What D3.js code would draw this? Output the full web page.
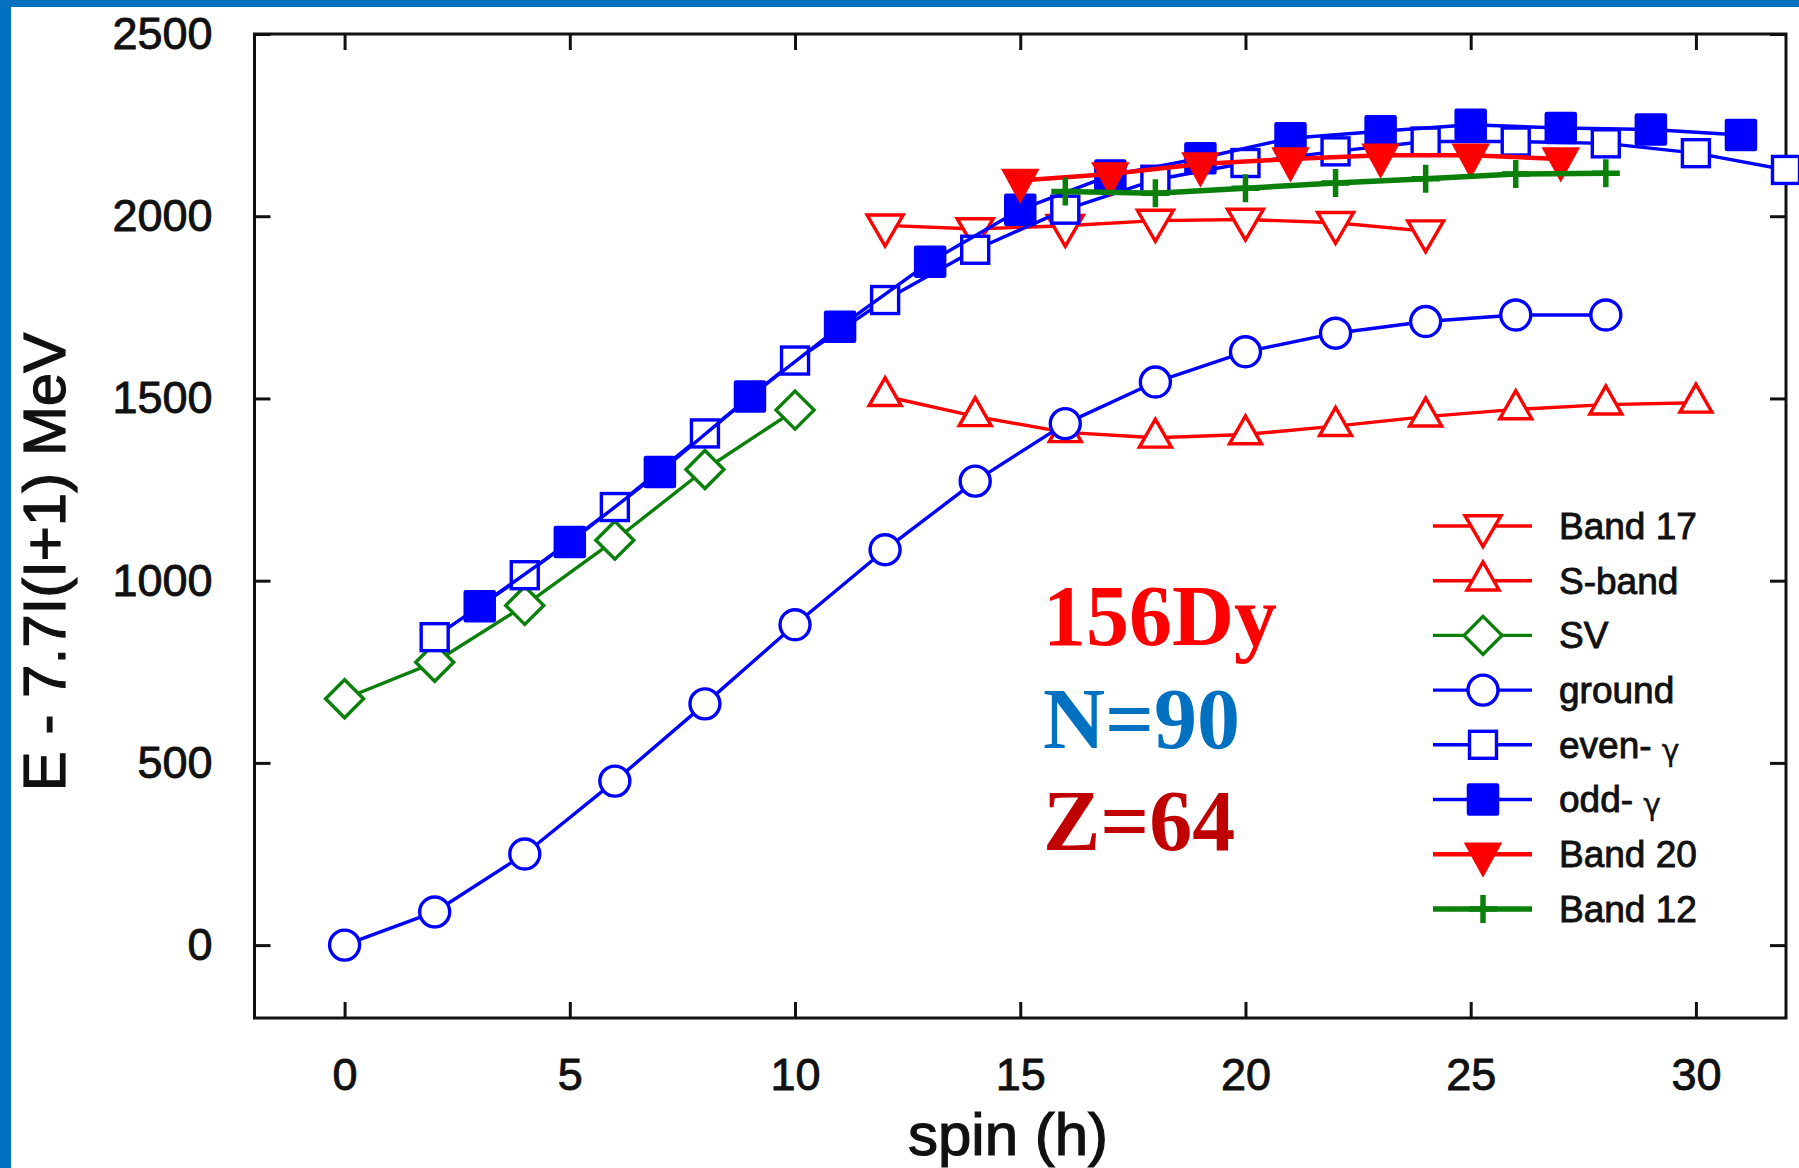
<!DOCTYPE html>
<html>
<head>
<meta charset="utf-8">
<script src="https://cdn.jsdelivr.net/npm/d3@7"></script>
<style>
  html, body { margin: 0; padding: 0; background: #fff; }
  svg { display: block; }
</style>
</head>
<body>
<svg id="chart" width="1799" height="1168"></svg>
<script>
// 156Dy bands: spin (hbar) and E - 7.7 I(I+1) (keV)
const band17Spin = [12, 14, 16, 18, 20, 22, 24];
const band17E    = [1975, 1965, 1974, 1988, 1991, 1982, 1959];

const sBandSpin = [12, 14, 16, 18, 20, 22, 24, 26, 28, 30];
const sBandE    = [1506, 1451, 1407, 1392, 1401, 1424, 1450, 1470, 1483, 1488];

const svSpin = [0, 2, 4, 6, 8, 10];
const svE    = [676, 776, 932, 1111, 1305, 1468];

const groundSpin = [0, 2, 4, 6, 8, 10, 12, 14, 16, 18, 20, 22, 24, 26, 28];
const groundE    = [0, 91, 250, 450, 662, 879, 1085, 1273, 1431, 1545, 1628, 1679, 1711, 1729, 1729];

const evenGammaSpin = [2, 4, 6, 8, 10, 12, 14, 16, 18, 20, 22, 24, 26, 28, 30, 32];
const evenGammaE    = [845, 1015, 1202, 1404, 1604, 1770, 1908, 2018, 2100, 2146, 2178, 2205, 2205, 2200, 2173, 2127];

const oddGammaSpin = [3, 5, 7, 9, 11, 13, 15, 17, 19, 21, 23, 25, 27, 29, 31];
const oddGammaE    = [930, 1106, 1298, 1505, 1697, 1875, 2018, 2112, 2159, 2214, 2233, 2251, 2242, 2238, 2223];

const band20Spin = [15, 17, 19, 21, 23, 25, 27];
const band20E    = [2098, 2116, 2143, 2157, 2167, 2167, 2157];

const band12Spin = [16, 18, 20, 22, 24, 26, 28];
const band12E    = [2068, 2063, 2077, 2091, 2103, 2116, 2118];

const xTicks = [0, 5, 10, 15, 20, 25, 30];
const yTicks = [0, 500, 1000, 1500, 2000, 2500];

const legendNames = ["Band 17", "S-band", "SV", "ground", "even- γ", "odd- γ", "Band 20", "Band 12"];
const nucleusLabels = ["156Dy", "N=90", "Z=64"];

// ---- series styling (plotted in this order) ----
const RED = "#ff0000", BLUE = "#0000ff", GREEN = "#0a800a";
const series = [
  { name: legendNames[0], spin: band17Spin,    e: band17E,    color: RED,   marker: "triDownOpen", lw: 3.4 },
  { name: legendNames[1], spin: sBandSpin,     e: sBandE,     color: RED,   marker: "triUpOpen",   lw: 3.4 },
  { name: legendNames[2], spin: svSpin,        e: svE,        color: GREEN, marker: "diamond",     lw: 3.4 },
  { name: legendNames[3], spin: groundSpin,    e: groundE,    color: BLUE,  marker: "circle",      lw: 3.4 },
  { name: legendNames[4], spin: evenGammaSpin, e: evenGammaE, color: BLUE,  marker: "squareOpen",  lw: 3.4 },
  { name: legendNames[5], spin: oddGammaSpin,  e: oddGammaE,  color: BLUE,  marker: "squareFill",  lw: 3.4 },
  { name: legendNames[6], spin: band20Spin,    e: band20E,    color: RED,   marker: "triDownFill", lw: 4.5 },
  { name: legendNames[7], spin: band12Spin,    e: band12E,    color: GREEN, marker: "plus",        lw: 5.5 }
];

const svg = d3.select("#chart");

// page frame strips
svg.append("rect").attr("x", 0).attr("y", 0).attr("width", 1799).attr("height", 1168).attr("fill", "#fff");
svg.append("rect").attr("x", 0).attr("y", 0).attr("width", 1799).attr("height", 7).attr("fill", "#0070c0");
svg.append("rect").attr("x", 0).attr("y", 0).attr("width", 11).attr("height", 1168).attr("fill", "#0070c0");

const plot = { left: 254.5, right: 1786, top: 34, bottom: 1018 };
const x = d3.scaleLinear().domain([-2, 32]).range([plot.left, plot.right]);
const y = d3.scaleLinear().domain([-200, 2500]).range([plot.bottom, plot.top]);

const AXIS_FONT = "'Liberation Sans', Arial, sans-serif";
const INK = "#111";
const TICK = 16;

// axes with inward ticks on all four sides
function styleAxis(g) {
  g.select(".domain").remove();
  g.selectAll(".tick line").attr("stroke", INK).attr("stroke-width", 3);
  g.selectAll("text").attr("font-family", AXIS_FONT).attr("font-size", 45)
    .attr("fill", INK).attr("stroke", INK).attr("stroke-width", 0.9);
}
svg.append("g").attr("transform", `translate(${plot.left},0)`)
  .call(d3.axisLeft(y).tickValues(yTicks).tickSize(-TICK).tickPadding(42).tickFormat(d3.format("d")))
  .call(styleAxis);
svg.append("g").attr("transform", `translate(${plot.right},0)`)
  .call(d3.axisRight(y).tickValues(yTicks).tickSize(-TICK).tickFormat(""))
  .call(styleAxis);
svg.append("g").attr("transform", `translate(0,${plot.bottom})`)
  .call(d3.axisBottom(x).tickValues(xTicks).tickSize(-TICK).tickPadding(40).tickFormat(d3.format("d")))
  .call(styleAxis);
svg.append("g").attr("transform", `translate(0,${plot.top})`)
  .call(d3.axisTop(x).tickValues(xTicks).tickSize(-TICK).tickFormat(""))
  .call(styleAxis);

svg.append("rect")
  .attr("x", plot.left).attr("y", plot.top)
  .attr("width", plot.right - plot.left).attr("height", plot.bottom - plot.top)
  .attr("fill", "none").attr("stroke", INK).attr("stroke-width", 3);

// axis titles
svg.append("text")
  .attr("transform", "translate(65,562) rotate(-90)")
  .attr("text-anchor", "middle")
  .attr("font-family", AXIS_FONT).attr("font-size", 60)
  .attr("fill", INK).attr("stroke", INK).attr("stroke-width", 1.2)
  .text("E - 7.7I(I+1) MeV");
svg.append("text")
  .attr("x", 1008).attr("y", 1155)
  .attr("text-anchor", "middle")
  .attr("font-family", AXIS_FONT).attr("font-size", 60)
  .attr("fill", INK).attr("stroke", INK).attr("stroke-width", 1.2)
  .text("spin (h)");

// marker drawing
function drawMarker(g, type, color) {
  switch (type) {
    case "triDownOpen":
      g.append("path").attr("d", "M-18,-10.3L18,-10.3L0,20.7Z")
        .attr("fill", "#fff").attr("stroke", color).attr("stroke-width", 3.4);
      break;
    case "triUpOpen":
      g.append("path").attr("d", "M-16,9.3L16,9.3L0,-18.7Z")
        .attr("fill", "#fff").attr("stroke", color).attr("stroke-width", 3.4);
      break;
    case "triDownFill":
      g.append("path").attr("d", "M-18,-11L18,-11L0,22Z")
        .attr("fill", color).attr("stroke", color).attr("stroke-width", 1.5);
      break;
    case "diamond":
      g.append("path").attr("d", "M0,-19L19,0L0,19L-19,0Z")
        .attr("fill", "#fff").attr("stroke", color).attr("stroke-width", 3.4);
      break;
    case "circle":
      g.append("circle").attr("r", 15)
        .attr("fill", "#fff").attr("stroke", color).attr("stroke-width", 3.4);
      break;
    case "squareOpen":
      g.append("rect").attr("x", -13.5).attr("y", -13.5).attr("width", 27).attr("height", 27)
        .attr("fill", "#fff").attr("stroke", color).attr("stroke-width", 3.4);
      break;
    case "squareFill":
      g.append("rect").attr("x", -15.5).attr("y", -15.5).attr("width", 31).attr("height", 31)
        .attr("fill", color).attr("stroke", color).attr("stroke-width", 1.5).attr("rx", 1.5);
      break;
    case "plus":
      g.append("path").attr("d", "M-14,0H14M0,-14V14")
        .attr("fill", "none").attr("stroke", color).attr("stroke-width", 5.5);
      break;
  }
}

const line = d3.line().x(d => x(d[0])).y(d => y(d[1]));

// each band: connecting line first, then its markers
series.forEach(s => {
  const pts = s.spin.map((sp, i) => [sp, s.e[i]]);
  const g = svg.append("g");
  g.append("path").datum(pts).attr("d", line)
    .attr("fill", "none").attr("stroke", s.color).attr("stroke-width", s.lw)
    .attr("stroke-linejoin", "round");
  g.selectAll("g.pt").data(pts).enter().append("g").attr("class", "pt")
    .attr("transform", d => `translate(${x(d[0])},${y(d[1])})`)
    .each(function () { drawMarker(d3.select(this), s.marker, s.color); });
});

// legend
const legend = { x1: 1433, x2: 1532, xm: 1483, xt: 1559, y0: 526, dy: 54.7 };
series.forEach((s, i) => {
  const ly = legend.y0 + i * legend.dy;
  const g = svg.append("g");
  g.append("line").attr("x1", legend.x1).attr("x2", legend.x2).attr("y1", ly).attr("y2", ly)
    .attr("stroke", s.color).attr("stroke-width", s.lw);
  const mg = g.append("g").attr("transform", `translate(${legend.xm},${ly})`);
  drawMarker(mg, s.marker, s.color);
  const t = g.append("text").attr("x", legend.xt).attr("y", ly).attr("dy", "0.35em")
    .attr("font-family", AXIS_FONT).attr("font-size", 37)
    .attr("fill", INK).attr("stroke", INK).attr("stroke-width", 0.9);
  const idx = s.name.indexOf("γ");
  if (idx >= 0) {
    t.append("tspan").text(s.name.slice(0, idx));
    t.append("tspan").attr("font-size", 30).attr("font-family", "'DejaVu Sans', sans-serif")
      .attr("stroke-width", 0.3).attr("dy", "0.1em").text("γ");
  } else {
    t.text(s.name);
  }
});

// nucleus annotation
const noteColors = ["#ff0000", "#0070c0", "#c00000"];
const noteBaselines = [645, 748, 850];
nucleusLabels.forEach((txt, i) => {
  svg.append("text")
    .attr("x", 1043).attr("y", noteBaselines[i])
    .attr("font-family", "'Liberation Serif', 'Times New Roman', serif")
    .attr("font-weight", "bold").attr("font-size", 86)
    .attr("fill", noteColors[i])
    .text(txt);
});
</script>
</body>
</html>
